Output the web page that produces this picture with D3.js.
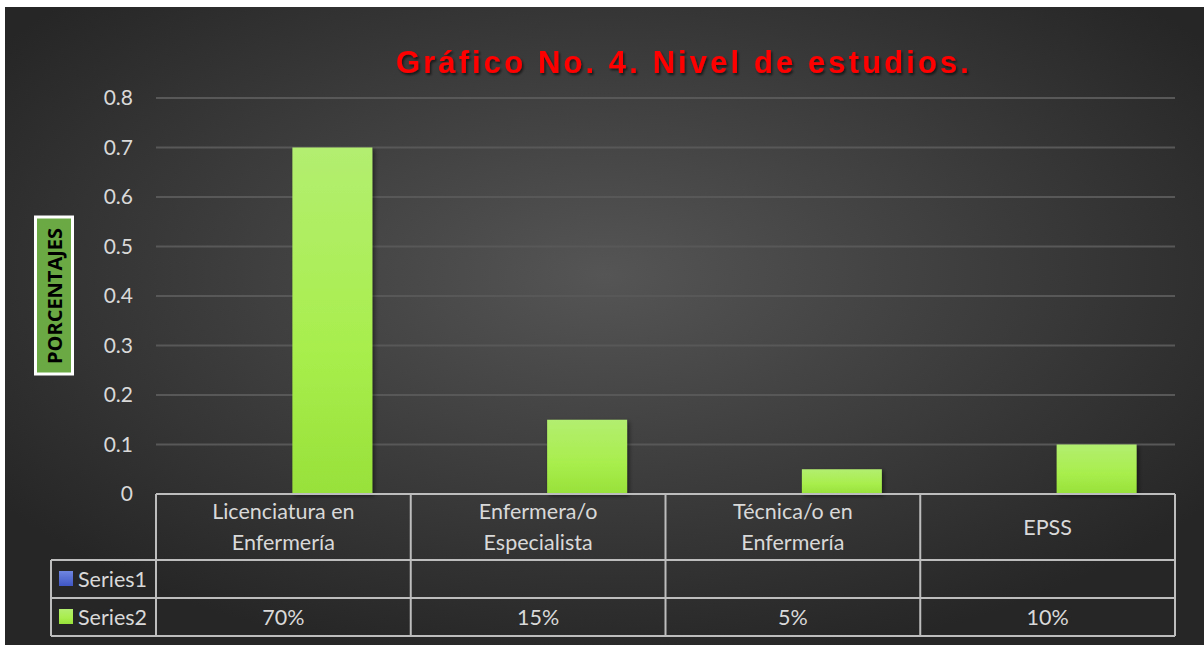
<!DOCTYPE html>
<html><head><meta charset="utf-8">
<script src="https://cdn.jsdelivr.net/npm/d3@7"></script>
<style>html,body{margin:0;padding:0;background:#fff;}svg{display:block;}</style>
</head><body>
<svg id="chart" width="1204" height="645"></svg>
<script>
const title = "Gráfico No. 4. Nivel de estudios.";
const yTitle = "PORCENTAJES";
const categories = [["Licenciatura en","Enfermería"],["Enfermera/o","Especialista"],["Técnica/o en","Enfermería"],["EPSS"]];
const seriesNames = ["Series1","Series2"];
const series1 = [null,null,null,null];
const series2 = [0.70,0.15,0.05,0.10];
const series2Labels = ["70%","15%","5%","10%"];
const yTicks = [0,0.1,0.2,0.3,0.4,0.5,0.6,0.7,0.8];

(function(){
const svg = d3.select("#chart");
const defs = svg.append("defs");
const bg = defs.append("radialGradient").attr("id","bg").attr("cx","0.5").attr("cy","0.42").attr("r","0.62");
bg.append("stop").attr("offset","0").attr("stop-color","#555555");
bg.append("stop").attr("offset","1").attr("stop-color","#262626");
const gg = defs.append("linearGradient").attr("id","gbar").attr("x1",0).attr("y1",0).attr("x2",0).attr("y2",1);
gg.append("stop").attr("offset","0").attr("stop-color","#b3ee70");
gg.append("stop").attr("offset","0.6").attr("stop-color","#a8ee4c");
gg.append("stop").attr("offset","1").attr("stop-color","#98e03a");
const gb = defs.append("linearGradient").attr("id","bbar").attr("x1",0).attr("y1",0).attr("x2",0).attr("y2",1);
gb.append("stop").attr("offset","0").attr("stop-color","#6f86e0");
gb.append("stop").attr("offset","1").attr("stop-color","#3f56c4");
const sh = defs.append("filter").attr("id","sh").attr("x","-20%").attr("y","-20%").attr("width","150%").attr("height","150%");
sh.append("feDropShadow").attr("dx",2).attr("dy",2).attr("stdDeviation",2).attr("flood-color","#000").attr("flood-opacity",0.5);
const tsh = defs.append("filter").attr("id","tsh");
tsh.append("feDropShadow").attr("dx",1.5).attr("dy",2).attr("stdDeviation",1).attr("flood-color","#000").attr("flood-opacity",0.6);

svg.append("rect").attr("x",5).attr("y",7).attr("width",1199).attr("height",638).attr("fill","url(#bg)");

const pLeft = 156, pRight = 1175, pTop = 98, pBottom = 494;
const y = d3.scaleLinear().domain([0,0.8]).range([pBottom, pTop]);
const x0 = d3.scaleBand().domain(d3.range(categories.length)).range([pLeft,pRight]).padding(0);
const x1 = d3.scaleBand().domain(seriesNames).range([0, x0.bandwidth()]).paddingInner(0.184).paddingOuter(0.392);

svg.append("g").selectAll("line").data(yTicks.filter(d=>d>0)).join("line")
  .attr("x1",pLeft).attr("x2",pRight).attr("y1",d=>y(d)).attr("y2",d=>y(d))
  .attr("stroke","#585858").attr("stroke-width",2);

const font = "Lato, 'Open Sans', sans-serif";
const yAxis = d3.axisLeft(y).tickValues(yTicks).tickFormat(d=>d===0?"0":d3.format(".1f")(d)).tickSize(0).tickPadding(23);
const ya = svg.append("g").attr("transform",`translate(${pLeft},0)`).call(yAxis);
ya.select(".domain").remove();
ya.selectAll("text").attr("fill","#d9d9d9").attr("font-family",font).attr("font-size",21).attr("dy","0.32em");

const data = [];
categories.forEach((c,i)=>{
  if (series1[i]!=null) data.push({i, s:"Series1", v:series1[i]});
  if (series2[i]!=null) data.push({i, s:"Series2", v:series2[i]});
});
svg.append("g").selectAll("rect").data(data).join("rect")
  .attr("x",d=>x0(d.i)+x1(d.s)).attr("width",x1.bandwidth())
  .attr("y",d=>y(d.v)).attr("height",d=>y(0)-y(d.v))
  .attr("fill",d=>d.s==="Series2"?"url(#gbar)":"url(#bbar)")
  .attr("filter","url(#sh)");

const rowTop = pBottom, row1 = 560, row2 = 598, rowBot = 636, tableLeft = 51;
const tg = svg.append("g").attr("stroke","#bdbdbd").attr("stroke-width",2).attr("fill","none");
tg.append("line").attr("x1",pLeft).attr("x2",pRight).attr("y1",rowTop).attr("y2",rowTop);
[row1,row2,rowBot].forEach(yy=>tg.append("line").attr("x1",tableLeft).attr("x2",pRight).attr("y1",yy).attr("y2",yy));
tg.append("line").attr("x1",tableLeft).attr("x2",tableLeft).attr("y1",row1).attr("y2",rowBot);
d3.range(categories.length+1).forEach(i=>{
  const xx = i<categories.length ? x0(i) : pRight;
  tg.append("line").attr("x1",xx).attr("x2",xx).attr("y1",rowTop).attr("y2",rowBot);
});

const cl = svg.append("g").attr("fill","#d9d9d9").attr("font-family",font).attr("font-size",21.5).attr("text-anchor","middle");
categories.forEach((c,i)=>{
  const cx = x0(i)+x0.bandwidth()/2;
  const t = cl.append("text").attr("x",cx);
  if (c.length===1) { t.attr("y",(rowTop+row1)/2).attr("dy","0.35em").text(c[0]); }
  else { c.forEach((line,k)=>t.append("tspan").attr("x",cx).attr("y",519+k*31).text(line)); }
  cl.append("text").attr("x",cx).attr("y",(row2+rowBot)/2).attr("dy","0.35em").text(series2Labels[i]);
});
const lg = svg.append("g").attr("font-family",font).attr("font-size",21.5).attr("fill","#d9d9d9");
[[row1,"Series1","url(#bbar)"],[row2,"Series2","url(#gbar)"]].forEach(([ry,name,fill])=>{
  lg.append("rect").attr("x",59).attr("y",ry+11).attr("width",14).attr("height",15).attr("fill",fill);
  lg.append("text").attr("x",78).attr("y",ry+19).attr("dy","0.35em").text(name);
});

svg.append("text").attr("x",684).attr("y",73).attr("text-anchor","middle")
  .attr("font-family","'Liberation Sans', Arial, sans-serif").attr("font-weight","bold").attr("font-size",31)
  .attr("letter-spacing","3.1px").attr("fill","#ff0000").attr("filter","url(#tsh)").text(title);

svg.append("rect").attr("x",35.5).attr("y",217).attr("width",37).attr("height",157)
  .attr("fill","#6aa943").attr("stroke","#ffffff").attr("stroke-width",3);
svg.append("text").attr("transform","translate(55,296) rotate(-90)").attr("text-anchor","middle").attr("dy","0.35em")
  .attr("font-family","'Open Sans', Lato, sans-serif").attr("font-weight","bold").attr("font-size",20).attr("fill","#000").text(yTitle);
})();
</script>
</body></html>
